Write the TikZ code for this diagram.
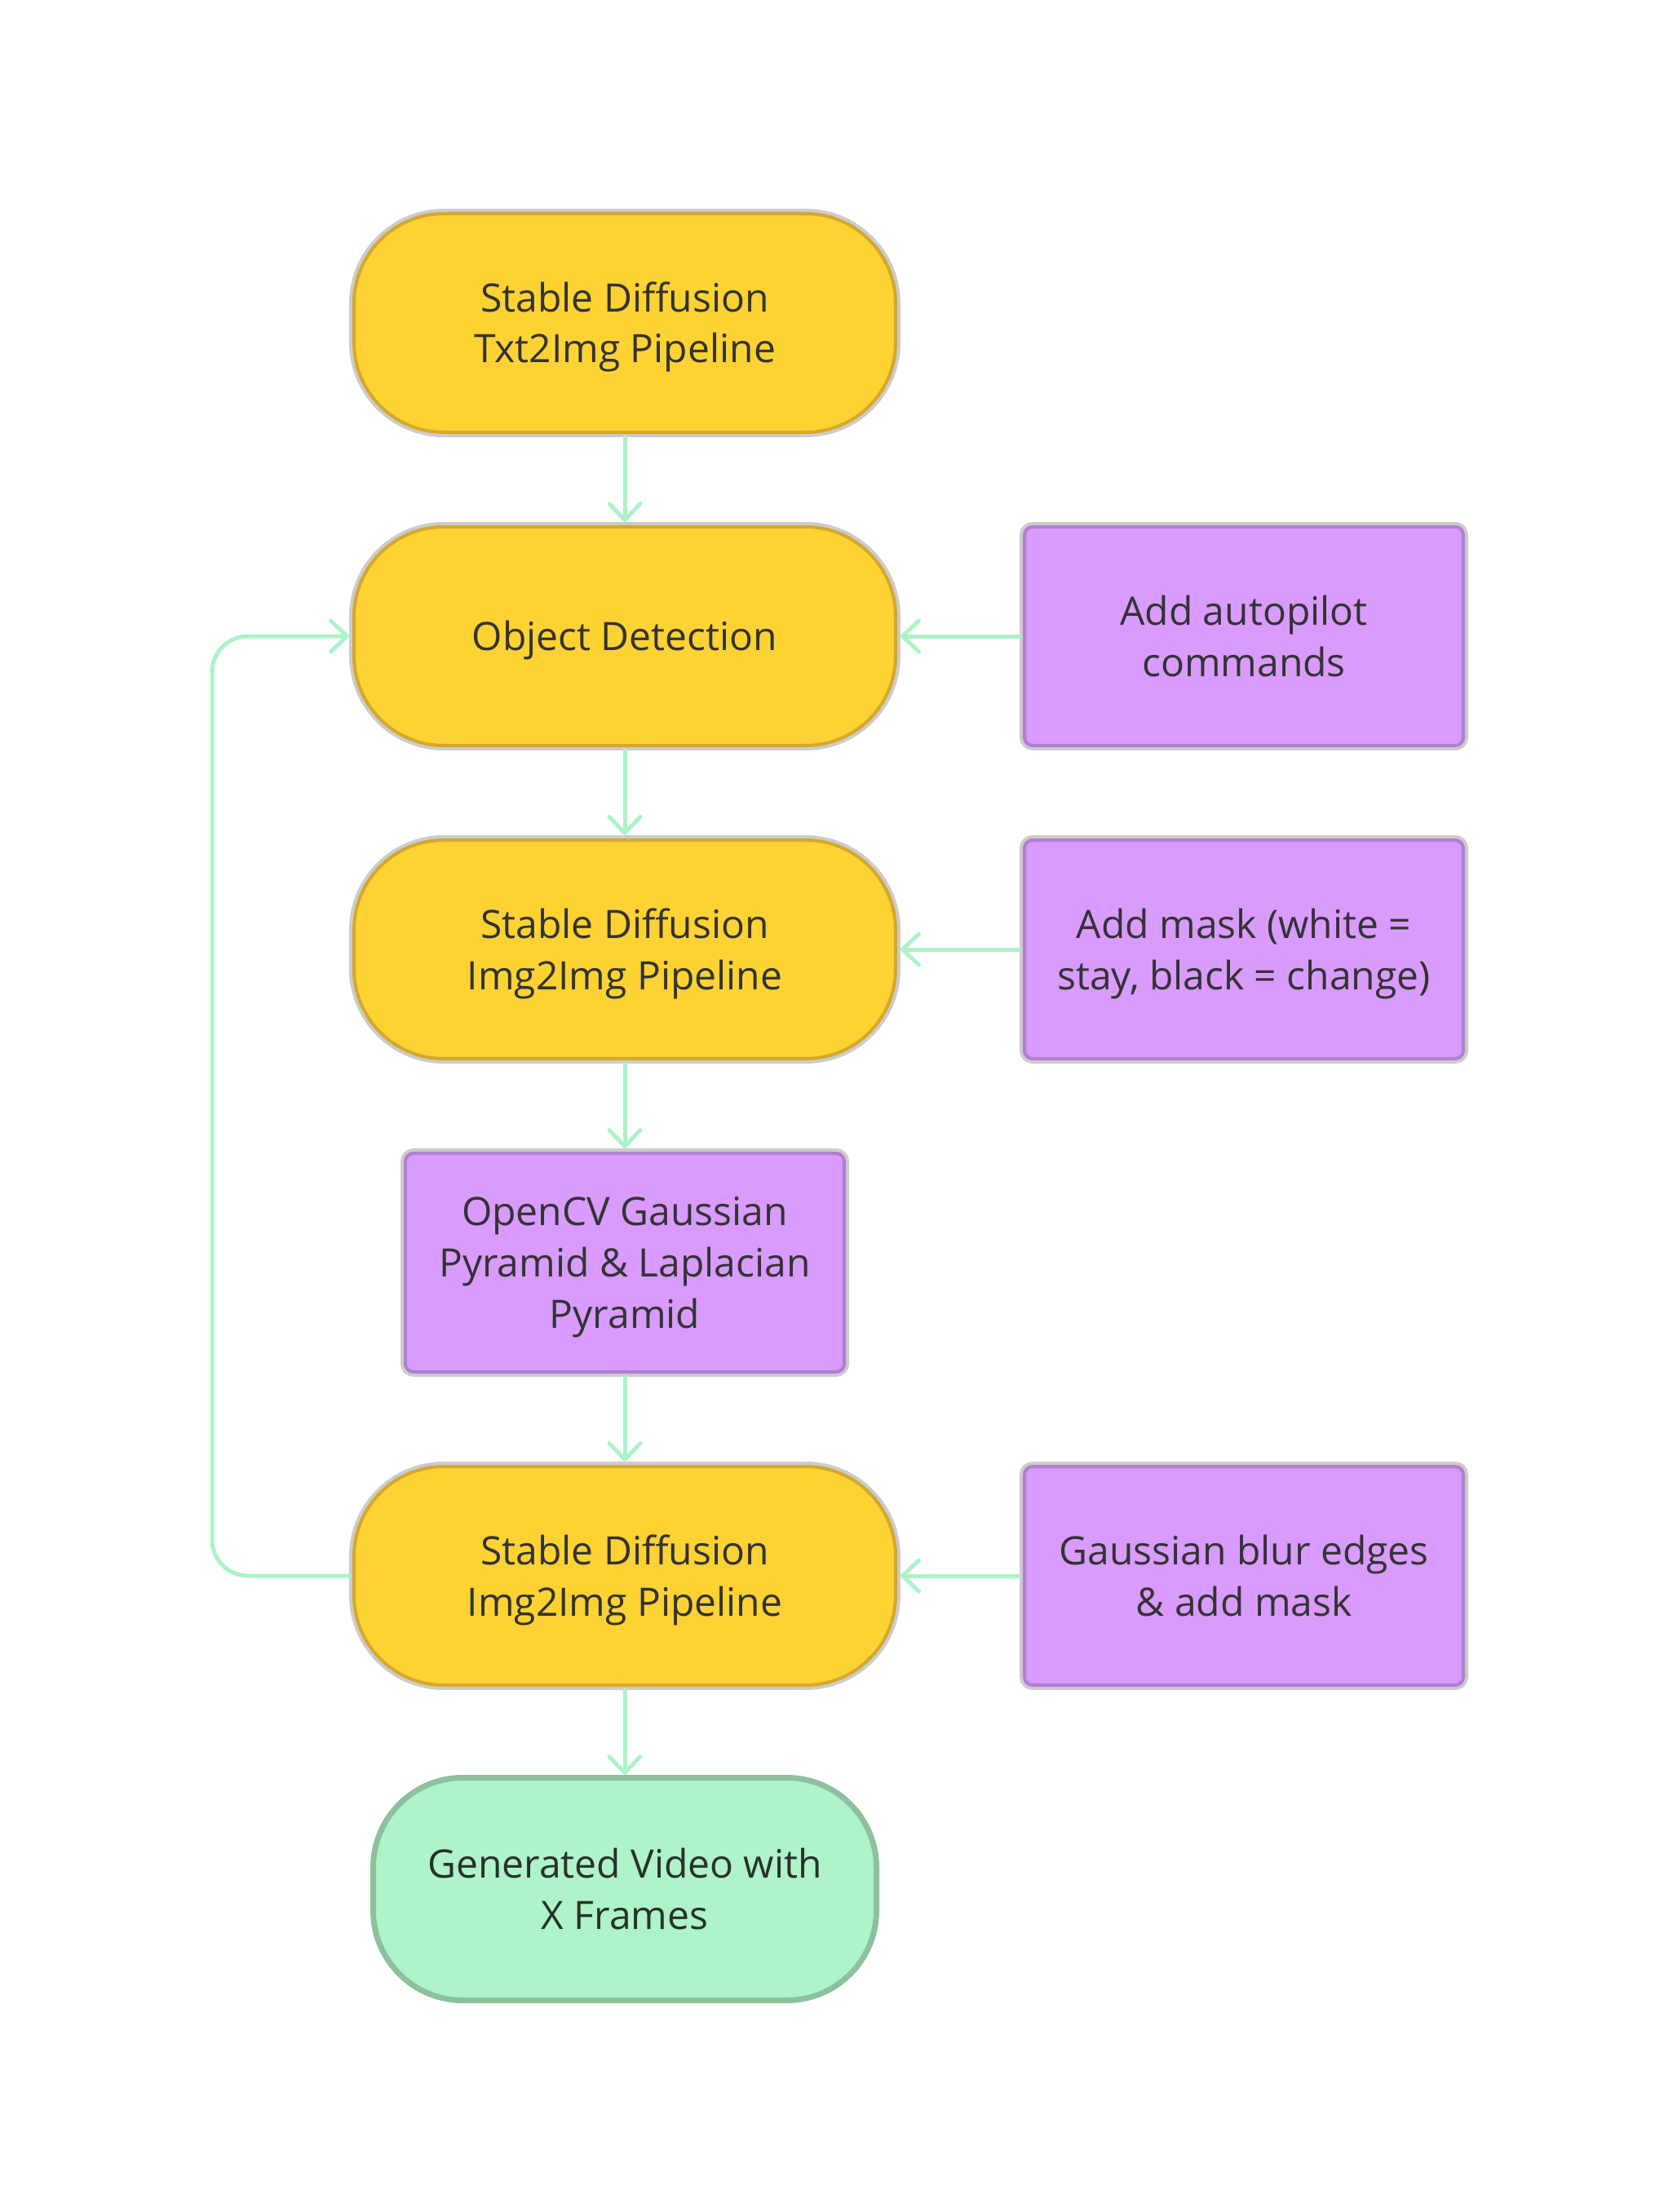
\documentclass[tikz,border=0pt]{standalone}
\usepackage{fontspec}
\setmainfont{Open Sans}
\usetikzlibrary{positioning,arrows.meta}
\definecolor{sdyellow}{HTML}{FDD233}
\definecolor{sdgold}{HTML}{D4A82C}
\definecolor{halo}{HTML}{CCCCCC}
\definecolor{cvpurple}{HTML}{D99BFD}
\definecolor{cvborder}{HTML}{B17FD1}
\definecolor{outgreen}{HTML}{AFF3C8}
\definecolor{outborder}{HTML}{8DC19D}
\definecolor{flowgreen}{HTML}{ADF3C7}
\definecolor{txtgray}{HTML}{333333}
\definecolor{txtdark}{HTML}{27322B}
\begin{document}
\begin{tikzpicture}[every node/.style={align=center,text=txtgray,font=\fontsize{24pt}{31.5pt}\selectfont},
				node distance=52pt,
				textrows/.style={text height=#1,text depth=0pt},
				pipe/.style={fill=sdyellow,draw=sdgold,line width=2pt,rounded corners=55pt,minimum width=332pt,minimum height=134pt,outer sep=3pt,preaction={draw=halo,line width=6pt}},
				tool/.style={fill=cvpurple,draw=cvborder,line width=2pt,rounded corners=5pt,minimum width=269pt,minimum height=134pt,outer sep=3pt,preaction={draw=halo,line width=6pt}},
				result/.style={fill=outgreen,draw=outborder,line width=3.5pt,rounded corners=55pt,minimum width=308.5pt,minimum height=136.5pt,outer sep=1.75pt,text=txtdark},
				flow/.style={draw=flowgreen,line width=2.5pt,line cap=round,-{Straight Barb[length=10pt,width=19pt,round]}}]
\useasboundingbox (0,0) rectangle (1027.5pt,-1356pt);
% main column
\node[pipe,textrows=49pt] (txt) at (383pt,-198pt) {Stable Diffusion\\Txt2Img Pipeline};
\node[pipe,textrows=17.5pt,below=of txt] (od) {Object Detection};
\node[pipe,textrows=49pt,below=of od] (imgA) {Stable Diffusion\\Img2Img Pipeline};
\node[tool,textrows=80.5pt,below=of imgA] (pyr) {OpenCV Gaussian\\Pyramid \& Laplacian\\Pyramid};
\node[pipe,textrows=49pt,below=of pyr] (imgB) {Stable Diffusion\\Img2Img Pipeline};
\node[result,textrows=49pt,below=of imgB] (video) {Generated Video with\\X Frames};
% side inputs
\node[tool,textrows=49pt,right=73pt of od] (auto) {Add autopilot\\commands};
\node[tool,textrows=49pt,right=73pt of imgA] (mask) {Add mask (white =\\stay, black = change)};
\node[tool,textrows=49pt,right=73pt of imgB] (blur) {Gaussian blur edges\\\& add mask};
\coordinate (back) at (130pt,0);
\draw[flow] (txt) -- (od);
\draw[flow] (od) -- (imgA);
\draw[flow] (imgA) -- (pyr);
\draw[flow] (pyr) -- (imgB);
\draw[flow] (imgB) -- (video);
\draw[flow] (auto) -- (od);
\draw[flow] (mask) -- (imgA);
\draw[flow] (blur) -- (imgB);
\draw[flow,rounded corners=22pt] (imgB.west) -- (imgB.west -| back) -- (od.west -| back) -- (od.west);
\end{tikzpicture}
\end{document}
